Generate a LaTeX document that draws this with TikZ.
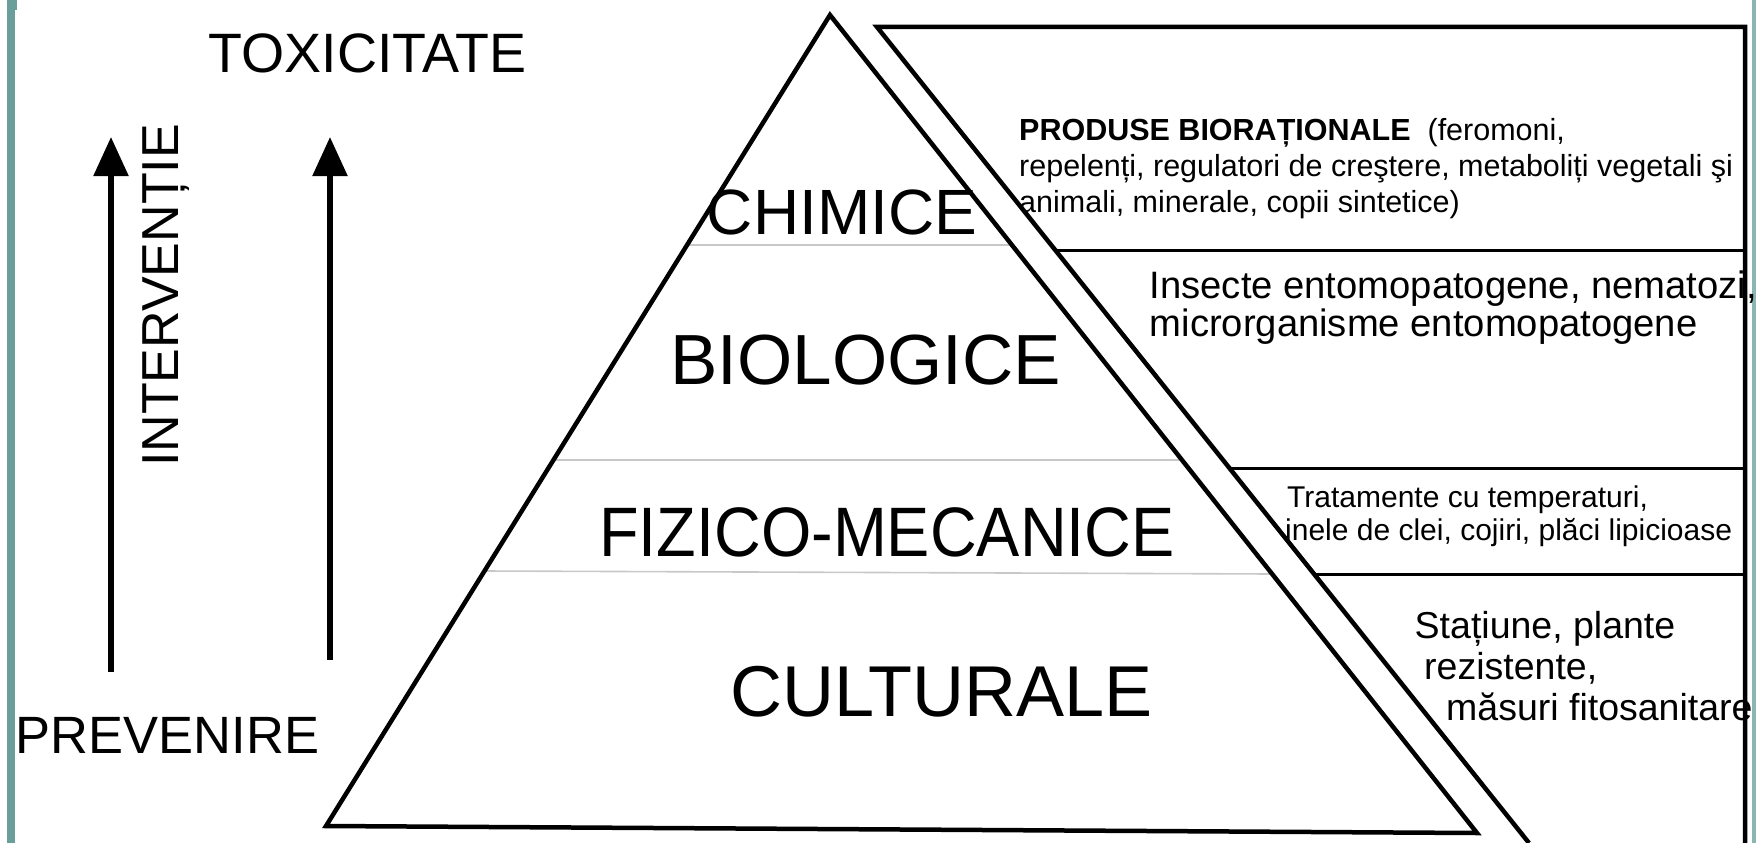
\documentclass[tikz,border=0pt]{standalone}
\usepackage{fontspec}
\setmainfont{Liberation Sans}
\usetikzlibrary{arrows.meta}
\definecolor{tealbar}{HTML}{6A9E9B}
\definecolor{tealedge}{HTML}{8DB5B2}
\definecolor{sepgray}{HTML}{C8C8C8}
\tikzset{
  frame/.style={line width=4.5pt, line join=miter},
  rowline/.style={line width=3pt},
  sepline/.style={sepgray, line width=1.6pt},
  uparrow/.style={line width=5.5pt, -{Triangle[length=39pt,width=34pt]}},
  level/.style={inner sep=0pt, anchor=base},
  note/.style={inner sep=0pt, anchor=base west},
}
\newcommand{\fs}[1]{\fontsize{#1}{#1}\selectfont}
\begin{document}
\begin{tikzpicture}[x=1pt,y=-1pt]
\useasboundingbox (0,0) rectangle (1756,843);
\fill[white] (0,0) rectangle (1756,843);
% teal bars
\fill[tealbar] (7,0) rectangle (15,843);
\fill[tealbar] (15,0) rectangle (17,10);
\fill[tealedge] (1752,0) rectangle (1756,843);
% coordinates
\coordinate (apex) at (830,15);
\coordinate (bl) at (326,826);
\coordinate (br) at (1477,833);
\coordinate (bandtop) at (877,27);
\coordinate (bandbot) at (1529,843);
\coordinate (boxtr) at (1745,27);
\coordinate (boxbr) at (1745,843);
% side labels
\node[level] (tox) at (367.5,73) {\fs{55.5}TOXICITATE};
\node[level, rotate=90] (interv) at (178,295.5) {\fs{52}INTERVENȚIE};
\node[level] (prev) at (167.5,753) {\fs{52.5}PREVENIRE};
% pyramid labels
\node[level] (chim) at (842,234) {\fs{64}CHIMICE};
\node[level] (bio) at (865.5,384) {\fs{71}BIOLOGICE};
\node[level] (fiz) at (887,556) {\scalebox{0.925}[1]{\fs{70}FIZICO-MECANICE}};
\node[level] (cult) at (941.5,716) {\fs{72}CULTURALE};
% notes
\node[note] (n1a) at (1019,140) {\fs{30.5}\textbf{PRODUSE BIORAȚIONALE}\ \ (feromoni,};
\node[note] (n1b) at (1019,176) {\fs{30.5}repelenți, regulatori de creştere, metaboliți vegetali şi};
\node[note] (n1c) at (1019,212) {\fs{30.5}animali, minerale, copii sintetice)};
\node[note] (n2a) at (1149.5,298) {\fs{38.2}Insecte entomopatogene, nematozi,};
\node[note] (n2b) at (1149.5,336) {\fs{38.2}microrganisme entomopatogene};
\node[note] (n3a) at (1287,507) {\fs{30}Tratamente cu temperaturi,};
\node[note] (n3b) at (1285,540) {\fs{30}inele de clei, cojiri, plăci lipicioase};
\node[note] (n4a) at (1414.5,638) {\fs{37.5}Stațiune, plante};
\node[note] (n4b) at (1424,679) {\fs{37.5}rezistente,};
\node[note] (n4c) at (1446,720) {\fs{37.5}măsuri fitosanitare};
% gray separators inside the pyramid
\draw[sepline] (688,245) -- (1012,245);
\draw[sepline] (555,460) -- (1183,460);
\draw[sepline] (484,571) -- (1273,574);
% pyramid
\draw[frame] (apex) -- (bl) -- (br) -- cycle;
% band and box
\draw[frame] (bandbot) -- (bandtop) -- (boxtr) -- (boxbr);
\draw[rowline] (1055,250) -- (1745,250);
\draw[rowline] (1229,468) -- (1745,468);
\draw[rowline] (1313,574) -- (1745,574);
% arrows
\coordinate (a1s) at (111,672);
\coordinate (a1e) at (111,137);
\coordinate (a2s) at (330,660);
\coordinate (a2e) at (330,137);
\draw[uparrow] (a1s) -- (a1e);
\draw[uparrow] (a2s) -- (a2e);
\end{tikzpicture}
\end{document}
